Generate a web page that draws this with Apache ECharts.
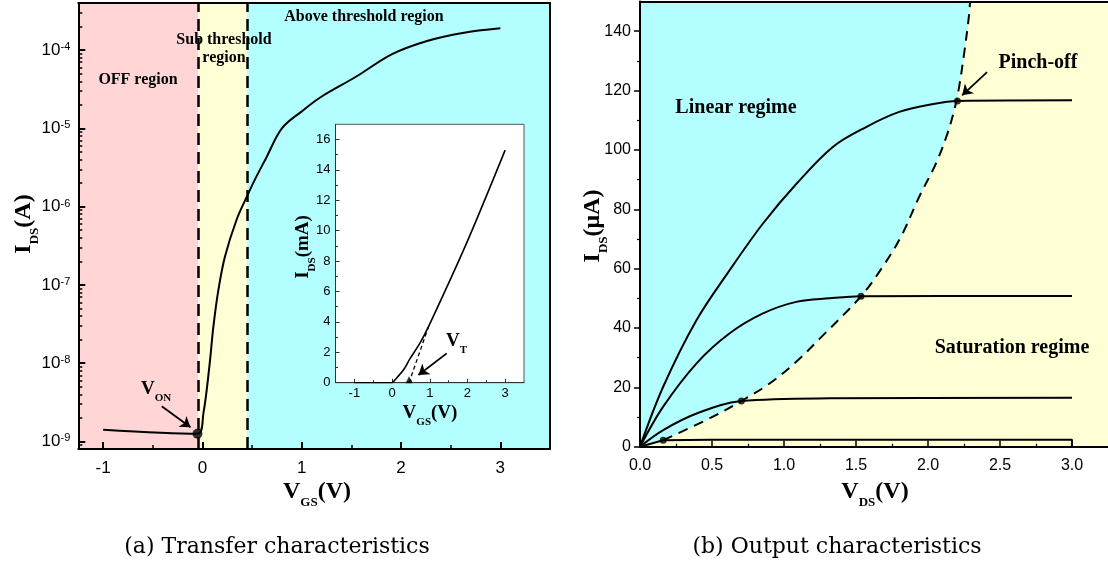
<!DOCTYPE html>
<html>
<head>
<meta charset="utf-8">
<title>Transfer and output characteristics</title>
<script src="https://cdn.jsdelivr.net/npm/echarts@6/dist/echarts.min.js"></script>
<style>
  html, body { margin: 0; padding: 0; background: #fff; }
  #chart { width: 1108px; height: 569px; }
</style>
</head>
<body>
<div id="chart"></div>
<script>
// (a) transfer characteristic, I_DS in A (log axis)
const transferVgs = [-1.0, -0.05, 0.01, 0.07, 0.11, 0.16, 0.227, 0.344, 0.454, 0.527, 0.638, 0.80, 1.0, 1.19, 1.55, 1.91, 2.27, 2.62, 3.0];
const transferIds = [1.41e-9, 1.25e-9, 2.3e-9, 9.1e-9, 2.9e-8, 8.5e-8, 2.3e-7, 6.8e-7, 1.4e-6, 2.2e-6, 4.1e-6, 1.0e-5, 1.65e-5, 2.5e-5, 4.6e-5, 8.9e-5, 1.32e-4, 1.66e-4, 1.9e-4];
const vOnPoint = [-0.05, 1.25e-9];
const regionEdges = [-0.04, 0.45];          // OFF | sub threshold | above threshold
const transferRange = [8e-10, 4e-4];
const decadeTicks = [-9, -8, -7, -6, -5, -4];

// inset, I_DS in mA (linear axis)
const insetVgs = [-1, 0, 0.035, 0.30, 0.48, 0.74, 0.97, 1.98, 3.0];
const insetIds = [0, 0, 0.07, 0.83, 1.6, 2.6, 3.7, 9.2, 15.3];
const tangentVgs = [0.45, 0.97];
const tangentIds = [0, 3.7];
const vtPoint = [0.45, 0.2];

// (b) output characteristics, I_DS in uA
const outVds1 = [0, 0.161, 0.393, 0.623, 0.854, 1.085, 1.339, 1.57, 1.80, 2.03, 2.204, 3.0];
const outIds1 = [0, 20.2, 42.7, 59.5, 75.2, 88.5, 101, 107.7, 112.8, 115.4, 116.5, 116.7];
const outVds2 = [0, 0.161, 0.393, 0.623, 0.854, 1.085, 1.316, 1.535, 3.0];
const outIds2 = [0, 13.5, 28.1, 38.2, 44.9, 48.8, 50.0, 50.7, 50.8];
const outVds3 = [0, 0.161, 0.393, 0.704, 1.316, 3.0];
const outIds3 = [0, 5.6, 11.2, 15.4, 16.3, 16.5];
const outVds4 = [0, 0.161, 0.5, 3.0, 3.0];
const outIds4 = [0, 2.2, 2.3, 2.3, 0];
const pinchVds = [0.161, 0.704, 1.535, 2.204];
const pinchIds = [2.2, 15.4, 50.7, 116.5];
const boundaryVds = [0, 0.161, 0.485, 0.704, 0.90, 1.085, 1.25, 1.535, 1.685, 1.812, 1.939, 2.055, 2.135, 2.188, 2.216, 2.251, 2.285, 2.292];
const boundaryIds = [0, 2.2, 9.6, 15.4, 21.3, 28.6, 36.5, 50.7, 60.6, 70.7, 84.2, 95.4, 105.5, 114.5, 121.2, 132.5, 145.4, 150];
const outMaxVds = 3.25;

const PINK = '#ffd5d5', YELLOW = '#ffffd6', CYAN = '#b3ffff';
const SERIF = 'Liberation Serif', SANS = 'Liberation Sans';

const pairs = (xs, ys, f) => xs.map((x, i) => [x, f ? f(ys[i]) : ys[i]]);
const range = (a, b, step) => { const r = []; for (let v = a; v <= b + 1e-9; v += step) r.push(+v.toFixed(4)); return r; };

// log minor ticks 2..9 x 10^n
const logMin = Math.log10(transferRange[0]), logMax = Math.log10(transferRange[1]);
const logMinor = [];
for (let n = -10; n <= -4; n++) {
    for (let k = 2; k <= 9; k++) {
        const v = n + Math.log10(k);
        if (v > logMin && v < logMax) logMinor.push(v);
    }
}

const chart = echarts.init(document.getElementById('chart'));

const axisLine = (w, c) => ({ show: true, onZero: false, lineStyle: { color: c || '#000', width: w } });
const hiddenLine = { show: false, onZero: false };
const noSplit = { show: false };

function valueAxis(o) {
    return Object.assign({
        type: 'value',
        splitLine: noSplit,
        axisLine: axisLine(2),
        axisLabel: { show: false },
        axisTick: { show: false },
        z: 6
    }, o);
}

const xAxes = [
    // (a) main
    valueAxis({ gridIndex: 0, min: -1.25, max: 3.5, position: 'bottom',
        axisTick: { inside: true, length: 7, lineStyle: { width: 2, color: '#000' }, customValues: [-1, 0, 1, 2, 3] },
        axisLabel: { show: true, customValues: [-1, 0, 1, 2, 3], fontFamily: SANS, fontSize: 17, color: '#000', margin: 11 } }),
    valueAxis({ gridIndex: 0, min: -1.25, max: 3.5, position: 'bottom', axisLine: hiddenLine,
        axisTick: { inside: true, length: 4, lineStyle: { width: 1.5, color: '#000' }, customValues: [-0.5, 0.5, 1.5, 2.5] } }),
    valueAxis({ gridIndex: 0, min: -1.25, max: 3.5, position: 'top' }),
    // inset
    valueAxis({ gridIndex: 1, min: -1.5, max: 3.5, position: 'bottom', z: 11, axisLine: axisLine(1, '#333'),
        axisTick: { inside: true, length: 4, lineStyle: { width: 1, color: '#333' }, customValues: [-1, 0, 1, 2, 3] },
        axisLabel: { show: true, customValues: [-1, 0, 1, 2, 3], fontFamily: SANS, fontSize: 13, color: '#000', margin: 4 } }),
    valueAxis({ gridIndex: 1, min: -1.5, max: 3.5, position: 'bottom', z: 11, axisLine: hiddenLine,
        axisTick: { inside: true, length: 2.5, lineStyle: { width: 1, color: '#333' }, customValues: [-0.5, 0.5, 1.5, 2.5] } }),
    // (b)
    valueAxis({ gridIndex: 2, min: 0, max: outMaxVds, position: 'bottom',
        axisTick: { inside: true, length: 6, lineStyle: { width: 1.5, color: '#000' }, customValues: range(0, 3, 0.5) },
        axisLabel: { show: true, customValues: range(0, 3, 0.5), formatter: v => v.toFixed(1), fontFamily: SANS, fontSize: 16, color: '#000', margin: 11 } }),
    valueAxis({ gridIndex: 2, min: 0, max: outMaxVds, position: 'bottom', axisLine: hiddenLine,
        axisTick: { inside: true, length: 3, lineStyle: { width: 1.2, color: '#000' }, customValues: range(0.25, 2.75, 0.5) } }),
    valueAxis({ gridIndex: 2, min: 0, max: outMaxVds, position: 'top' })
];

const yAxes = [
    // (a) main, log10 of current
    valueAxis({ gridIndex: 0, min: logMin, max: logMax, position: 'left',
        axisTick: { inside: true, length: 7, lineStyle: { width: 2, color: '#000' }, customValues: decadeTicks },
        axisLabel: { show: true, customValues: decadeTicks, margin: 8,
            formatter: v => '{b|10}{s|' + Math.round(v) + '}',
            rich: {
                b: { fontFamily: SANS, fontSize: 17, color: '#000', lineHeight: 17, verticalAlign: 'bottom' },
                s: { fontFamily: SANS, fontSize: 11, color: '#000', lineHeight: 11, verticalAlign: 'top' }
            } } }),
    valueAxis({ gridIndex: 0, min: logMin, max: logMax, position: 'left', axisLine: hiddenLine,
        axisTick: { inside: true, length: 4, lineStyle: { width: 1.5, color: '#000' }, customValues: logMinor } }),
    valueAxis({ gridIndex: 0, min: logMin, max: logMax, position: 'right' }),
    // inset
    valueAxis({ gridIndex: 1, min: 0, max: 17, position: 'left', z: 11, axisLine: axisLine(1, '#333'),
        axisTick: { inside: true, length: 4, lineStyle: { width: 1, color: '#333' }, customValues: range(0, 16, 2) },
        axisLabel: { show: true, customValues: range(0, 16, 2), fontFamily: SANS, fontSize: 13, color: '#000', margin: 5 } }),
    valueAxis({ gridIndex: 1, min: 0, max: 17, position: 'left', z: 11, axisLine: hiddenLine,
        axisTick: { inside: true, length: 2.5, lineStyle: { width: 1, color: '#333' }, customValues: range(1, 15, 2) } }),
    // (b)
    valueAxis({ gridIndex: 2, min: 0, max: 150, position: 'left',
        axisTick: { inside: false, length: 6, lineStyle: { width: 1.5, color: '#000' }, customValues: range(0, 140, 20) },
        axisLabel: { show: true, customValues: range(0, 140, 20), fontFamily: SANS, fontSize: 16, color: '#000', margin: 9 } }),
    valueAxis({ gridIndex: 2, min: 0, max: 150, position: 'left', axisLine: hiddenLine,
        axisTick: { inside: false, length: 3, lineStyle: { width: 1.2, color: '#000' }, customValues: range(10, 130, 20) } })
];

const arrow = (from, to, z) => ({
    silent: true, z: z || 5, symbol: ['none', 'arrow'], symbolSize: 10,
    label: { show: false }, lineStyle: { color: '#000', width: 1.8, type: 'solid' },
    data: [[{ coord: from }, { coord: to }]]
});

const curve = (xi, yi, data, extra) => Object.assign({
    type: 'line', xAxisIndex: xi, yAxisIndex: yi, data: data,
    showSymbol: false, smooth: 0.35,
    lineStyle: { color: '#000', width: 2 }, animation: false
}, extra);

const series = [
    // (a)
    curve(0, 0, pairs(transferVgs, transferIds, Math.log10), {
        markArea: { silent: true, data: [
            [{ xAxis: -1.25, itemStyle: { color: PINK, opacity: 1 } }, { xAxis: regionEdges[0] }],
            [{ xAxis: regionEdges[0], itemStyle: { color: YELLOW, opacity: 1 } }, { xAxis: regionEdges[1] }],
            [{ xAxis: regionEdges[1], itemStyle: { color: CYAN, opacity: 1 } }, { xAxis: 3.5 }]
        ] },
        markLine: { silent: true, symbol: 'none', label: { show: false },
            lineStyle: { color: '#000', width: 2.5, type: [12, 7] },
            data: regionEdges.map(x => ({ xAxis: x })) }
    }),
    { type: 'scatter', xAxisIndex: 0, yAxisIndex: 0, data: [[vOnPoint[0], Math.log10(vOnPoint[1])]],
      symbolSize: 10, itemStyle: { color: '#000' }, animation: false,
      markLine: arrow([-0.41, -8.55], [-0.12, -8.82]) },
    // inset
    curve(3, 3, pairs(insetVgs, insetIds), { z: 12, smooth: 0.3, lineStyle: { color: '#000', width: 1.6 } }),
    curve(3, 3, pairs(tangentVgs, tangentIds), { z: 12, smooth: false, lineStyle: { color: '#000', width: 1.3, type: [4, 3] } }),
    { type: 'scatter', xAxisIndex: 3, yAxisIndex: 3, data: [vtPoint], z: 12, symbol: 'triangle',
      symbolSize: 7, itemStyle: { color: '#000' }, animation: false,
      markLine: arrow([1.45, 1.93], [0.70, 0.51], 13) },
    // (b) saturation region fill under the pinch-off boundary
    curve(5, 5, pairs(boundaryVds, boundaryIds), {
        lineStyle: { width: 0, opacity: 0 }, areaStyle: { color: YELLOW, opacity: 1 }, z: 1,
        markArea: { silent: true, data: [[
            { xAxis: boundaryVds[boundaryVds.length - 1], itemStyle: { color: YELLOW, opacity: 1 } },
            { xAxis: outMaxVds }]] }
    }),
    curve(5, 5, pairs(boundaryVds.slice(1), boundaryIds.slice(1)), { lineStyle: { color: '#000', width: 2, type: [10, 7] } }),
    curve(5, 5, pairs(outVds1, outIds1)),
    curve(5, 5, pairs(outVds2, outIds2)),
    curve(5, 5, pairs(outVds3, outIds3)),
    curve(5, 5, pairs(outVds4, outIds4), { smooth: false }),
    { type: 'scatter', xAxisIndex: 5, yAxisIndex: 5, data: pairs(pinchVds, pinchIds),
      symbolSize: 7, itemStyle: { color: '#000' }, animation: false,
      markLine: arrow([2.41, 126.2], [2.237, 118.4]) }
];

// text helpers
const label = (x, y, text, size) => ({
    type: 'text', x: x, y: y, z: 100, silent: true,
    style: { text: text, fontFamily: SERIF, fontWeight: 'bold', fontSize: size, fill: '#000', align: 'center', verticalAlign: 'middle' }
});

function subText(x, y, main, sub, tail, size, subSize, rotate, align) {
    const tok = (fs, extra) => Object.assign({ fontFamily: SERIF, fontWeight: 'bold', fontSize: fs, lineHeight: fs, fill: '#000', verticalAlign: 'top' }, extra);
    return {
        type: 'text', x: x, y: y, z: 100, silent: true, rotation: rotate ? Math.PI / 2 : 0,
        style: {
            text: '{m|' + main + '}{s|' + sub + '}' + (tail ? '{m|' + tail + '}' : ''),
            rich: { m: tok(size), s: tok(subSize, { padding: [Math.round(size * 0.66), 0, 0, 0] }) },
            align: align || 'center', verticalAlign: 'middle'
        }
    };
}

const caption = (x, y, text) => ({
    type: 'text', x: x, y: y, z: 100, silent: true,
    style: { text: text, fontFamily: 'DejaVu Serif', fontSize: 22, fill: '#000', align: 'center', verticalAlign: 'middle' }
});

const option = {
    backgroundColor: '#fff',
    animation: false,
    grid: [
        { left: 78.3, top: 3, width: 471.7, height: 446 },
        { left: 335.5, top: 124.3, width: 188.5, height: 258.4, show: true, backgroundColor: '#fff', borderColor: '#555', borderWidth: 1, z: 10 },
        { left: 640, top: 1.5, width: 469.3, height: 445.2, show: true, backgroundColor: CYAN, borderWidth: 0 }
    ],
    xAxis: xAxes,
    yAxis: yAxes,
    series: series,
    graphic: [
        label(138, 80, 'OFF region', 16),
        label(224, 40, 'Sub threshold', 16),
        label(224, 58, 'region', 16),
        label(364, 17, 'Above threshold region', 16),
        label(736, 108, 'Linear regime', 20),
        label(1038, 63, 'Pinch-off', 20),
        label(1012, 348, 'Saturation regime', 20),
        subText(141, 389, 'V', 'ON', '', 19, 11, false, 'left'),
        subText(446, 341, 'V', 'T', '', 19, 11, false, 'left'),
        subText(24, 224, 'I', 'DS', '(A)', 24, 13, true),
        subText(317, 492, 'V', 'GS', '(V)', 24, 13, false),
        subText(303, 247, 'I', 'DS', '(mA)', 19, 11, true),
        subText(430, 413, 'V', 'GS', '(V)', 19, 11, false),
        subText(593, 226, 'I', 'DS', '(μA)', 24, 13, true),
        subText(875, 492, 'V', 'DS', '(V)', 24, 13, false),
        caption(277, 547, '(a) Transfer characteristics'),
        caption(837, 547, '(b) Output characteristics')
    ]
};

chart.setOption(option);
window.addEventListener('resize', () => chart.resize());
</script>
</body>
</html>
